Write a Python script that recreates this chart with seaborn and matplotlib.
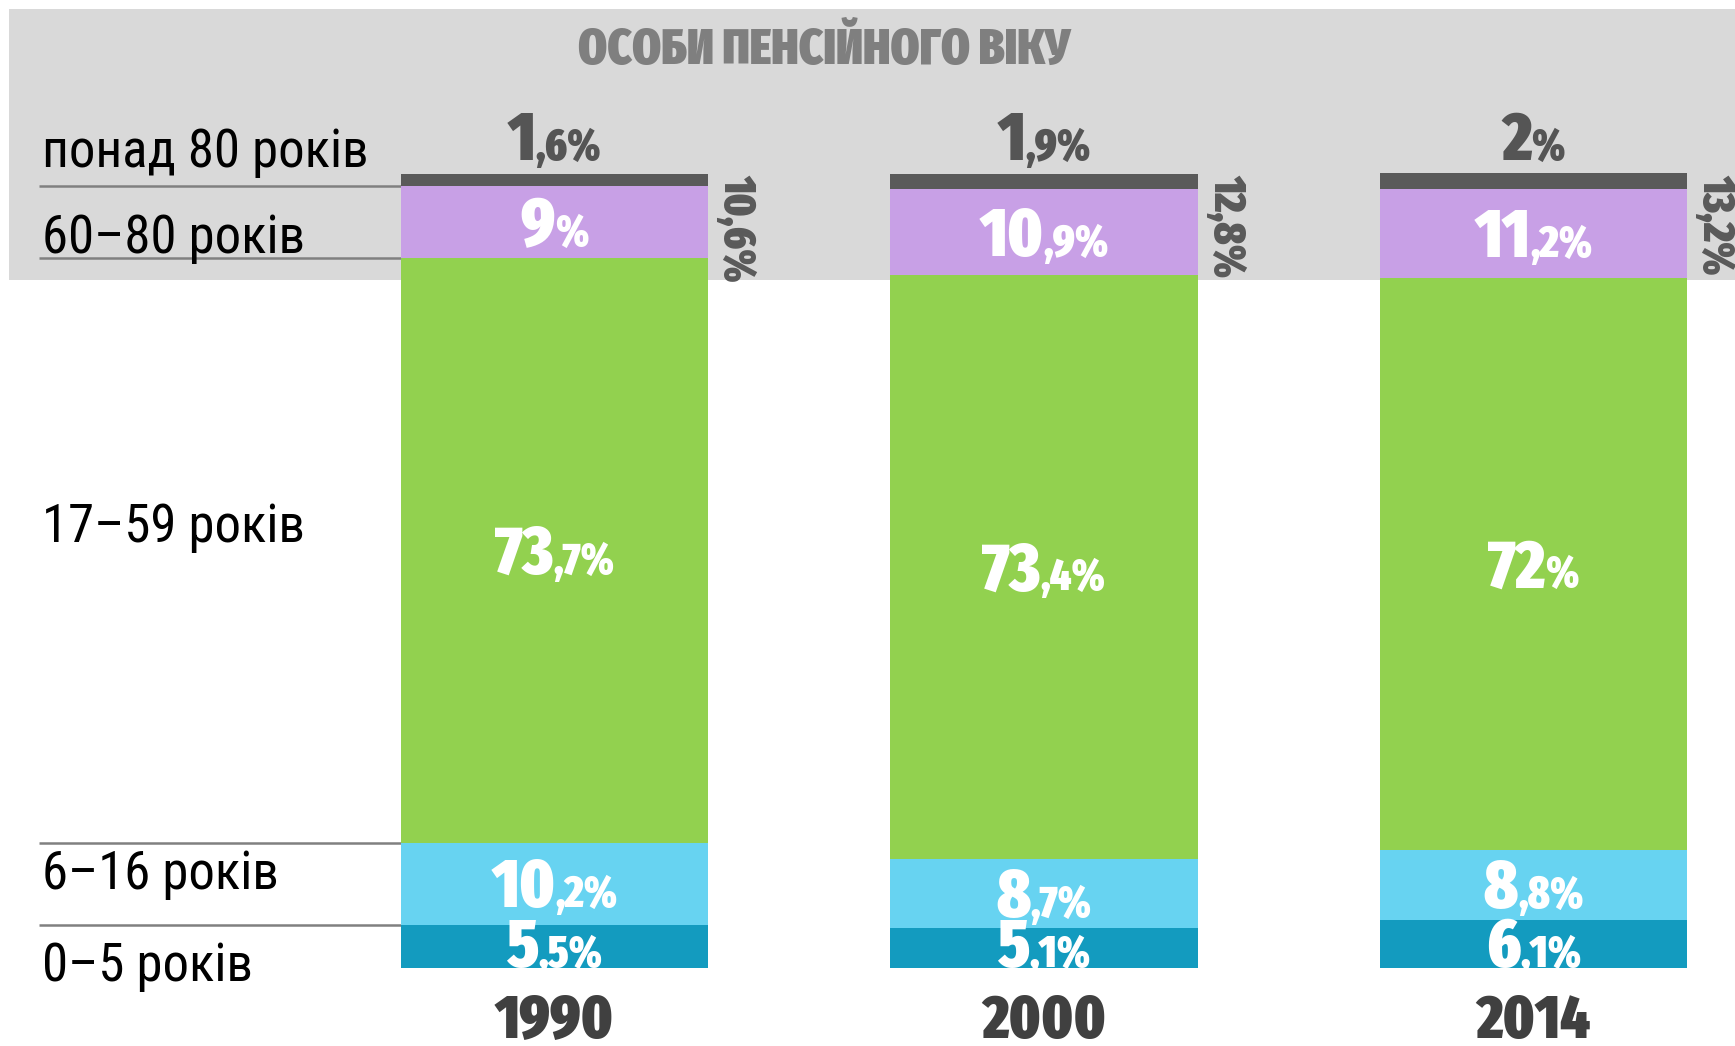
import matplotlib
matplotlib.use("Agg")
import matplotlib.pyplot as plt
import seaborn as sns
import pandas as pd

# ---------------- data ----------------
years = ["1990", "2000", "2014"]
age_groups = ["0–5 років", "6–16 років", "17–59 років", "60–80 років", "понад 80 років"]
share_0_5 = [5.5, 5.1, 6.1]
share_6_16 = [10.2, 8.7, 8.8]
share_17_59 = [73.7, 73.4, 72.0]
share_60_80 = [9.0, 10.9, 11.2]
share_80plus = [1.6, 1.9, 2.0]
pension_total = [10.6, 12.8, 13.2]
title = "ОСОБИ ПЕНСІЙНОГО ВІКУ"

series = [share_0_5, share_6_16, share_17_59, share_60_80, share_80plus]
colors = ["#139bbf", "#67d3f1", "#92d14f", "#c8a0e6", "#5a5a5a"]

HEAVY = ["Fira Sans Extra Condensed", "DejaVu Sans"]
LIGHT = ["Roboto Condensed", "DejaVu Sans"]

sns.set_style("white")
plt.rcParams["font.family"] = LIGHT


def fmt_parts(v):
    s = f"{v:.1f}".replace(".", ",")
    if s.endswith(",0"):
        return s[:-2], "%"
    whole, dec = s.split(",")
    return whole, "," + dec + "%"


fig = plt.figure(figsize=(17.35, 10.46), dpi=100)
ax = fig.add_axes([0, 0, 1, 1])

XMIN, XMAX = -1.1324, 2.4114
YMIN, YMAX = -9.79, 121.86
PX_PER_Y = 1046 / (YMAX - YMIN)

# grey band for pension-age groups
ax.axhspan(86.6, 120.7, xmin=8.9 / 1735, xmax=1.0, color="#d9d9d9", zorder=0, lw=0)

# stacked bars: overlay cumulative totals, tallest first
rows = []
for g, vals in zip(age_groups, series):
    for y, v in zip(years, vals):
        rows.append({"year": y, "group": g, "value": v})
df = pd.DataFrame(rows)
df["cum"] = df.groupby("year")["value"].cumsum()

BAR_W = 0.628
for g, c in reversed(list(zip(age_groups, colors))):
    sub = df[df["group"] == g]
    sns.barplot(data=sub, x="year", y="cum", order=years, color=c, saturation=1,
                width=BAR_W, errorbar=None, linewidth=0, ax=ax, zorder=2)

ax.set_xlim(XMIN, XMAX)
ax.set_ylim(YMIN, YMAX)
ax.axis("off")

renderer = fig.canvas.get_renderer()
SIZE = 49


def cap_height(size):
    return 0.689 * size * 100 / 72 / PX_PER_Y


def value_label(xc, y_base, v, color, size):
    big, small = fmt_parts(v)
    kw = dict(color=color, family=HEAVY, weight="black", ha="left", va="baseline", zorder=5)
    t1 = ax.text(xc, y_base, big, fontsize=size, **kw)
    t2 = ax.text(xc, y_base, small, fontsize=size * 0.65, **kw)
    w1 = t1.get_window_extent(renderer).width
    w2 = t2.get_window_extent(renderer).width
    xc_px, yb_px = ax.transData.transform((xc, y_base))
    inv = ax.transData.inverted()
    left = xc_px - (w1 + w2) / 2
    t1.set_position((inv.transform((left, yb_px))[0], y_base))
    t2.set_position((inv.transform((left + w1, yb_px))[0], y_base))


ch = cap_height(SIZE)
for i in range(len(years)):
    base = 0.0
    for k, vals in enumerate(series):
        v = vals[i]
        if k == 0:
            value_label(i, max(0.15, base + v / 2 - ch / 2), v, "white", SIZE)
        elif k < 4:
            value_label(i, base + v / 2 - ch / 2, v, "white", SIZE)
        else:
            value_label(i, 101.7, v, "#555555", SIZE)
        base += v
    # rotated total of pension-age share
    ax.text(i + BAR_W / 2 + 0.012, 100.0, f"{pension_total[i]:.1f}".replace(".", ",") + "%",
            rotation=-90, ha="left", va="top", fontsize=32, color="#5a5a5a",
            family=HEAVY, weight="black", zorder=5)
    # year labels
    ax.text(i, -6.7, years[i], ha="center", va="center", fontsize=44,
            color="#404040", family=HEAVY, weight="black")

# title
ax.text(0.55, 115.5, title, ha="center", va="center", fontsize=36, color="#7f7f7f",
        family=HEAVY, weight="black")

# left-side group labels and separator lines (aligned to first bar)
span = XMAX - XMIN
lab_x = XMIN + 42 / 1735 * span
line_x0 = XMIN + 38.7 / 1735 * span
bar_left = -BAR_W / 2
cum1 = []
s = 0
for vals in series:
    s += vals[0]
    cum1.append(s)
for yb in cum1[:4]:
    ax.plot([line_x0, bar_left], [yb, yb], color="#808080", lw=1.8, zorder=1,
            solid_capstyle="butt")

label_y = [0.9,
           (cum1[0] + cum1[1]) / 2 + 1.9,
           (cum1[1] + cum1[2]) / 2 + 3.6,
           (cum1[2] + cum1[3]) / 2 - 1.4,
           103.4]
for g, yl in zip(age_groups, label_y):
    ax.text(lab_x, yl, g, ha="left", va="center_baseline", fontsize=38, color="black",
            family=LIGHT)

fig.savefig("out.png", dpi=100, facecolor="white")
